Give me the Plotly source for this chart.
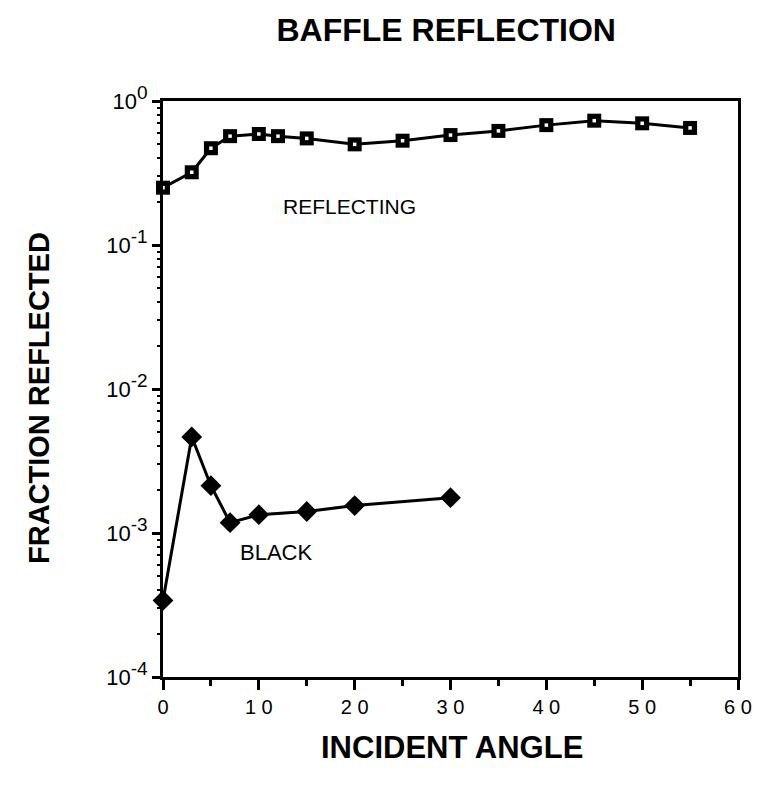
import plotly.graph_objects as go

# incident angle (deg) and fraction reflected
reflecting_angle = [0, 3, 5, 7, 10, 12, 15, 20, 25, 30, 35, 40, 45, 50, 55]
reflecting_frac = [0.25, 0.32, 0.47, 0.57, 0.59, 0.57, 0.55, 0.50, 0.53,
                   0.58, 0.62, 0.68, 0.73, 0.70, 0.65]

black_angle = [0, 3, 5, 7, 10, 15, 20, 30]
black_frac = [3.4e-4, 4.65e-3, 2.13e-3, 1.18e-3, 1.34e-3, 1.41e-3, 1.55e-3, 1.76e-3]

y_tickvals = [1e-4, 1e-3, 1e-2, 1e-1, 1]
y_exponents = ["-4", "-3", "-2", "-1", "0"]
y_ticktext = ['10<sup><span style="font-size:19px">%s</span></sup>' % e
              for e in y_exponents]
y_minorvals = [m * 10.0 ** e for e in range(-4, 0) for m in range(2, 10)]
x_tickvals = [0, 10, 20, 30, 40, 50, 60]
x_ticktext = ["0", "1 0", "2 0", "3 0", "4 0", "5 0", "6 0"]

FONT = "Liberation Sans, Arial, sans-serif"

fig = go.Figure()

fig.add_trace(go.Scatter(
    x=reflecting_angle, y=reflecting_frac, mode="lines+markers",
    line=dict(color="black", width=3),
    marker=dict(symbol="square", size=14, color="black"),
    cliponaxis=False, showlegend=False,
))
# white centre of the reflecting markers
fig.add_trace(go.Scatter(
    x=reflecting_angle, y=reflecting_frac, mode="markers",
    marker=dict(symbol="square", size=3.5, color="white"),
    cliponaxis=False, showlegend=False,
))
fig.add_trace(go.Scatter(
    x=black_angle, y=black_frac, mode="lines+markers",
    line=dict(color="black", width=3),
    marker=dict(symbol="diamond", size=16, color="black"),
    cliponaxis=False, showlegend=False,
))
# invisible trace so the minor-tick overlay axis gets drawn
fig.add_trace(go.Scatter(
    x=[30], y=[1e-2], yaxis="y2", mode="markers",
    marker=dict(opacity=0), hoverinfo="skip", showlegend=False,
))

fig.add_annotation(x=19.5, y=-0.73, xref="x", yref="y", text="REFLECTING",
                   showarrow=False, xanchor="center", yanchor="middle",
                   font=dict(family=FONT, size=21, color="black"))
fig.add_annotation(x=11.75, y=-3.135, xref="x", yref="y", text="BLACK",
                   showarrow=False, xanchor="center", yanchor="middle",
                   font=dict(family=FONT, size=22, color="black"))

# axis titles
fig.add_annotation(x=0.503, y=-0.123, xref="paper", yref="paper",
                   text="<b>INCIDENT ANGLE</b>", showarrow=False,
                   xanchor="center", yanchor="middle",
                   font=dict(family=FONT, size=31, color="black"))
fig.add_annotation(x=-0.216, y=0.484, xref="paper", yref="paper",
                   text="<b>FRACTION REFLECTED</b>", showarrow=False,
                   textangle=-90, xanchor="center", yanchor="middle",
                   font=dict(family=FONT, size=29, color="black"))

fig.update_layout(
    width=744, height=778,
    paper_bgcolor="white", plot_bgcolor="white",
    margin=dict(l=155, r=14, t=93, b=109),
    title=dict(text="<b>BAFFLE REFLECTION</b>", x=0.589, xanchor="center",
               y=0.972, yanchor="middle",
               font=dict(family=FONT, size=32, color="black")),
    font=dict(family=FONT, color="black"),
    yaxis2=dict(
        overlaying="y", side="left", type="log", range=[-4, 0],
        tickvals=y_minorvals, showticklabels=False, automargin=False,
        ticks="outside", ticklen=5, tickwidth=2, tickcolor="black",
        showgrid=False, zeroline=False, showline=False,
    ),
)

fig.update_xaxes(
    range=[0, 60], tickvals=x_tickvals, ticktext=x_ticktext,
    automargin=False, showgrid=False, zeroline=False,
    showline=True, linecolor="black", linewidth=3, mirror=True,
    ticks="outside", ticklen=10, tickwidth=3, tickcolor="black",
    minor=dict(dtick=5, tick0=0, ticks="outside", ticklen=6, tickwidth=3,
               tickcolor="black", showgrid=False),
    tickfont=dict(family=FONT, size=20, color="black"),
)

fig.layout.yaxis.update(
    type="log", range=[-4, 0], tickvals=y_tickvals, ticktext=y_ticktext,
    automargin=False, showgrid=False, zeroline=False,
    showline=True, linecolor="black", linewidth=3, mirror=True,
    ticks="outside", ticklen=8, tickwidth=3, tickcolor="black",
    tickfont=dict(family=FONT, size=22, color="black"),
)

fig.write_html("out.html")
